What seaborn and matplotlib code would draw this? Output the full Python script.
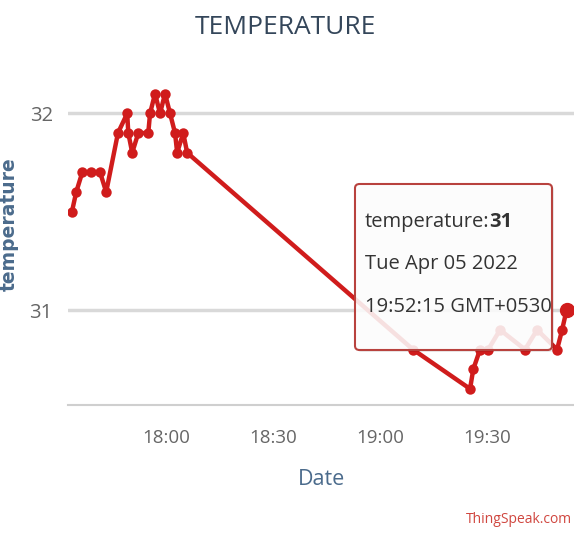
import matplotlib
matplotlib.use("Agg")
import matplotlib.pyplot as plt
import matplotlib.dates as mdates
from matplotlib.patches import FancyBboxPatch
import pandas as pd
import seaborn as sns

# readings from the ThingSpeak channel (Tue Apr 05 2022)
times = ["17:33:36", "17:34:48", "17:36:30", "17:39:00", "17:41:30", "17:43:12",
         "17:46:30", "17:49:06", "17:49:24", "17:50:30", "17:52:12", "17:55:00",
         "17:55:30", "17:56:54", "17:58:18", "17:59:42", "18:01:06", "18:02:30",
         "18:03:06", "18:04:48", "18:05:54", "19:09:12", "19:25:12", "19:26:06",
         "19:28:00", "19:30:18", "19:33:36", "19:40:36", "19:44:00", "19:49:36",
         "19:51:00", "19:52:15"]
temperature = [31.5, 31.6, 31.7, 31.7, 31.7, 31.6,
               31.9, 32.0, 31.9, 31.8, 31.9, 31.9,
               32.0, 32.1, 32.0, 32.1, 32.0, 31.9,
               31.8, 31.9, 31.8, 30.8, 30.6, 30.7,
               30.8, 30.8, 30.9, 30.8, 30.9, 30.8,
               30.9, 31.0]
y_ticks = [31, 32]
tooltip_lines = ["temperature:", "31", "Tue Apr 05 2022", "19:52:15 GMT+0530"]

df = pd.DataFrame({"Date": pd.to_datetime("2022-04-05 " + pd.Series(times)),
                   "temperature": temperature})

sns.set_style("white")
plt.rcParams["font.family"] = ["Open Sans", "DejaVu Sans"]

RED = "#d01c1c"
fig = plt.figure(figsize=(5.74, 5.34), dpi=100)
ax = fig.add_axes([68 / 574, 129 / 534, 506 / 574, 331 / 534])

sns.lineplot(data=df, x="Date", y="temperature", ax=ax, color=RED, lw=3.2,
             marker="o", markersize=7.5, markeredgewidth=0, zorder=3)
last = df.iloc[-1]
ax.plot([last["Date"]], [last["temperature"]], "o", color=RED, markersize=10,
        zorder=4, clip_on=False)

ax.set_xlim(pd.Timestamp("2022-04-05 17:32:30"), pd.Timestamp("2022-04-05 19:54:20"))
ax.set_ylim(30.518, 32.2)
ax.set_yticks(y_ticks)
ax.xaxis.set_major_locator(mdates.MinuteLocator(byminute=[0, 30]))
ax.xaxis.set_major_formatter(mdates.DateFormatter("%H:%M"))

ax.grid(axis="y", color="#d9d9d9", lw=2.5)
ax.grid(axis="x", visible=False)
for s in ["top", "right", "left"]:
    ax.spines[s].set_visible(False)
ax.spines["bottom"].set_color("#cfcfcf")
ax.spines["bottom"].set_linewidth(1.5)
ax.tick_params(axis="x", length=7, width=1, color="#d0d0d0", pad=10,
               labelsize=13.5, labelcolor="#666666")
ax.tick_params(axis="y", length=0, pad=11, labelsize=14.5, labelcolor="#666666")

ax.set_xlabel("Date", fontsize=15.5, color="#4b6b8c", labelpad=16)
ax.set_ylabel("temperature", fontsize=13.5, color="#4b6b8c", fontweight="bold",
              family="DejaVu Sans")
ax.yaxis.set_label_coords(-0.098, 0.545)
fig.text(0.497, 0.948, "TEMPERATURE", ha="center", va="center",
         fontsize=19, color="#34465a")
fig.text(0.997, 0.027, "ThingSpeak.com", ha="right", va="center",
         fontsize=10, color="#d0463f")

# hover tooltip (kept on the axes so the text stays above the box)
tf = fig.transFigure
shadow = FancyBboxPatch((357 / 574, 182 / 534), 197 / 574, 166 / 534,
                        boxstyle="round,pad=0,rounding_size=0.008", transform=tf,
                        facecolor="#000000", alpha=0.08, edgecolor="none",
                        zorder=5, clip_on=False)
box = FancyBboxPatch((355 / 574, 184 / 534), 197 / 574, 166 / 534,
                     boxstyle="round,pad=0,rounding_size=0.008", transform=tf,
                     facecolor=(1, 1, 1, 0.87), edgecolor="#b8423e", lw=1.5,
                     zorder=6, clip_on=False)
ax.add_patch(shadow)
ax.add_patch(box)
t1 = ax.text(365 / 574, 1 - 222 / 534, tooltip_lines[0], transform=tf, ha="left",
             va="center", fontsize=14.5, color="#333333", zorder=7)
ax.annotate(tooltip_lines[1], xy=(1, 0.5), xycoords=t1, ha="left", va="center",
            fontsize=14.5, fontweight="bold", color="#333333", zorder=7,
            annotation_clip=False)
ax.text(365 / 574, 1 - 264 / 534, tooltip_lines[2], transform=tf, ha="left",
        va="center", fontsize=14.5, color="#333333", zorder=7)
ax.text(365 / 574, 1 - 307 / 534, tooltip_lines[3], transform=tf, ha="left",
        va="center", fontsize=14.5, color="#333333", zorder=7)

fig.savefig("out.png", dpi=100)
